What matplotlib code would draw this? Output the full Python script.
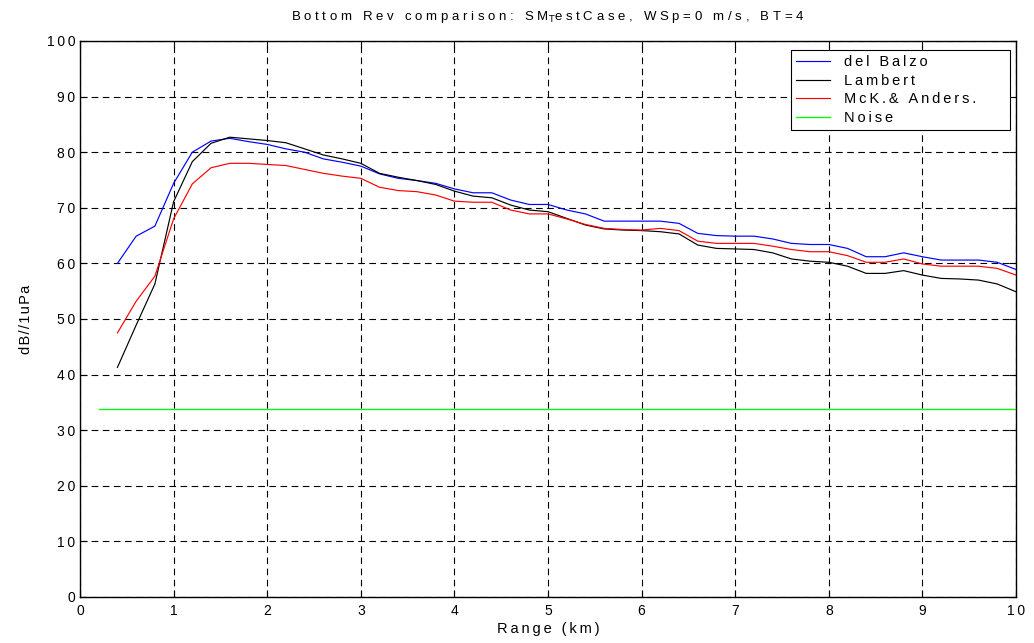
import numpy as np
import matplotlib
matplotlib.use("Agg")
import matplotlib.pyplot as plt
from matplotlib.ticker import FuncFormatter

plt.rcParams['font.family'] = ['Liberation Sans', 'DejaVu Sans']

range_km = [0.4, 0.6, 0.8, 1.0, 1.2, 1.4, 1.6, 1.8, 2.0, 2.2, 2.4, 2.6, 2.8, 3.0,
            3.2, 3.4, 3.6, 3.8, 4.0, 4.2, 4.4, 4.6, 4.8, 5.0, 5.2, 5.4, 5.6, 5.8,
            6.0, 6.2, 6.4, 6.6, 6.8, 7.0, 7.2, 7.4, 7.6, 7.8, 8.0, 8.2, 8.4, 8.6,
            8.8, 9.0, 9.2, 9.4, 9.6, 9.8, 10.0]

del_balzo = [60.0, 64.9, 66.7, 74.4, 80.0, 82.0, 82.5, 81.9, 81.4, 80.6, 80.0, 78.8,
             78.2, 77.5, 76.1, 75.3, 74.9, 74.4, 73.4, 72.7, 72.7, 71.4, 70.6, 70.6,
             69.6, 68.9, 67.6, 67.6, 67.6, 67.6, 67.2, 65.4, 65.0, 64.9, 64.9, 64.4,
             63.6, 63.4, 63.4, 62.7, 61.2, 61.2, 61.9, 61.2, 60.6, 60.6, 60.6, 60.2, 58.9]

lambert = [41.3, 48.9, 56.3, 71.1, 78.3, 81.6, 82.7, 82.4, 82.1, 81.7, 80.6, 79.5,
           78.8, 78.0, 76.2, 75.5, 74.9, 74.2, 73.0, 72.1, 71.8, 70.5, 69.6, 69.3,
           68.1, 66.9, 66.2, 66.0, 65.9, 65.7, 65.3, 63.3, 62.7, 62.6, 62.5, 61.9,
           60.8, 60.4, 60.2, 59.5, 58.2, 58.2, 58.7, 57.9, 57.3, 57.2, 57.0, 56.3, 54.9]

mck_anders = [47.5, 53.2, 57.7, 68.0, 74.3, 77.2, 78.0, 78.0, 77.8, 77.6, 76.9, 76.2,
              75.7, 75.3, 73.7, 73.1, 72.9, 72.3, 71.2, 71.0, 71.0, 69.6, 68.9, 68.9,
              68.0, 67.0, 66.3, 66.1, 66.0, 66.3, 65.9, 64.0, 63.6, 63.6, 63.6, 63.1,
              62.5, 62.1, 62.1, 61.4, 60.2, 60.2, 60.8, 59.9, 59.5, 59.5, 59.5, 59.1, 57.9]

noise_range = [0.2, 10.0]
noise_level = [33.8, 33.8]

series_labels = ['del Balzo', 'Lambert', 'McK.& Anders.', 'Noise']

THIN = '\u2009'
HAIR = '\u200a'


def spaced(s, sep=THIN):
    """Widen letter spacing (the reference uses loosely tracked text)."""
    return sep.join(s)


def legend_label(s):
    # loosely tracked text plus trailing room, as in the reference legend box
    return spaced(s) + '       '


fig = plt.figure(figsize=(10.34, 6.43), dpi=100)
ax = fig.add_axes([80/1034, 46/643, 936/1034, 556/643])

colors = [(0, 0, 1), 'black', (1, 0, 0)]
for vals, lab, c in zip([del_balzo, lambert, mck_anders], series_labels[:3], colors):
    ax.plot(range_km, vals, color=c, lw=0.85, label=legend_label(lab))
ax.plot(noise_range, noise_level, color=(0, 1, 0), lw=0.95,
        label=legend_label(series_labels[3]))

ax.set_xlim(0, 10)
ax.set_ylim(0, 100)
ax.set_xticks(np.arange(0, 11, 1))
ax.set_yticks(np.arange(0, 101, 10))
fmt = FuncFormatter(lambda v, p: spaced('%d' % round(v)))
ax.xaxis.set_major_formatter(fmt)
ax.yaxis.set_major_formatter(fmt)
ax.grid(True, color='black', linestyle=(0, (6, 4)), lw=0.8)
ax.tick_params(direction='in', top=True, right=True, labelsize=10, length=5)
ax.tick_params(axis='x', pad=5)
for s in ax.spines.values():
    s.set_linewidth(1.0)

title = (spaced('Bottom Rev comparison: SM', ' ') + r'$_\mathrm{T}$' +
         spaced('estCase, WSp=0 m/s, BT=4', ' '))
ax.set_title(title, fontsize=9.5, pad=15)
ax.set_xlabel(spaced('Range (km)'), fontsize=10.5, labelpad=3)
ax.set_ylabel(spaced('dB//1uPa', HAIR), fontsize=10.5, labelpad=10)

leg = ax.legend(loc='upper right', bbox_to_anchor=(1010/1034, 1 - 50/643),
                bbox_transform=fig.transFigure, borderaxespad=0,
                fontsize=10.5, frameon=True, fancybox=False,
                edgecolor='black', framealpha=1,
                handlelength=2.33, handletextpad=0.95, labelspacing=0.31,
                borderpad=0.35)
leg.get_frame().set_linewidth(0.8)

fig.savefig('out.png', dpi=100)
